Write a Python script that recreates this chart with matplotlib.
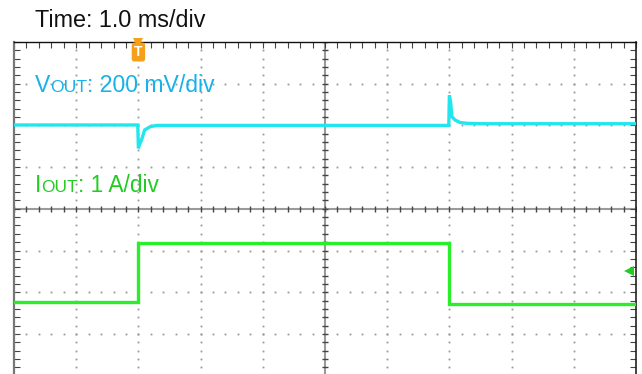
import numpy as np
import matplotlib
matplotlib.use("Agg")
import matplotlib.pyplot as plt

plt.rcParams['font.family'] = ['Liberation Sans', 'DejaVu Sans']

# scope screen: 10 div x 8 div, time in ms (1.0 ms/div), levels in divisions
vout_t = [0, 1.99, 2.0, 2.02, 2.05, 2.1, 2.19, 2.3, 6.99, 7.0, 7.02, 7.04, 7.09, 7.17, 7.28, 7.5, 10]
vout_div = [6.01, 6.01, 5.45, 5.55, 5.65, 5.89, 5.97, 6.0, 6.0, 6.72, 6.55, 6.21, 6.13, 6.07, 6.05, 6.04, 6.04]

iout_t = [0, 2.0, 2.0, 7.0, 7.0, 10]
iout_div = [1.77, 1.77, 3.19, 3.19, 1.72, 1.72]

trigger_t = 2.0
iout_ref_div = 2.5

W, H = 642, 374
fig = plt.figure(figsize=(W / 100, H / 100), dpi=100)
ax = fig.add_axes([14 / W, (H - 375.6) / H, 622 / W, 333.6 / H])
ax.set_xlim(0, 10)
ax.set_ylim(0, 8)

# dotted graticule
fine_x = np.arange(0, 10.001, 0.2)
fine_y = np.arange(0, 8.001, 0.2)
for gx in [1, 2, 3, 4, 6, 7, 8, 9]:
    ax.plot(np.full_like(fine_y, gx), fine_y, ls='none', marker='s', ms=1.3, color='#999999', mew=0)
for gy in [1, 2, 3, 5, 6, 7]:
    ax.plot(fine_x, np.full_like(fine_x, gy), ls='none', marker='s', ms=1.3, color='#999999', mew=0)

# centre lines with fine ticks
ax.axvline(5, color='#9a9a9a', lw=1.5, zorder=1)
ax.axhline(4, color='#9a9a9a', lw=1.5, zorder=1)
ax.plot(np.full_like(fine_y, 5), fine_y, ls='none', marker='_', ms=5, color='#444444', mew=1)
ax.plot(fine_x, np.full_like(fine_x, 4), ls='none', marker='|', ms=5, color='#444444', mew=1)

# traces
ax.plot(vout_t, vout_div, color='#22e6ee', lw=2.4, solid_joinstyle='miter', zorder=4)
ax.plot(iout_t, iout_div, color='#2aee2a', lw=2.4, solid_joinstyle='miter', zorder=4)

# markers
ax.plot([9.88], [iout_ref_div], marker='<', ms=7, color='#22cc22', mew=0, clip_on=False, zorder=5)
ax.plot([trigger_t], [7.97], marker='v', ms=7, color='#f5a01a', mew=0, clip_on=False, zorder=6)
ax.text(trigger_t, 7.76, 'T', color='white', fontsize=10, fontweight='bold', ha='center', va='center',
        bbox=dict(boxstyle='round,pad=0.18', fc='#f5a01a', ec='none'), zorder=6)

# frame
ax.set_xticks(fine_x)
ax.set_yticks(fine_y)
ax.tick_params(direction='in', length=4, width=0.8, color='#444444', top=True, bottom=False,
               left=True, right=True, labelbottom=False, labelleft=False)
ax.spines['left'].set_color('#777777')
ax.spines['left'].set_linewidth(1.6)
ax.spines['top'].set_color('#111111')
ax.spines['top'].set_linewidth(1.0)
ax.spines['right'].set_color('#222222')
ax.spines['right'].set_linewidth(1.2)
ax.spines['bottom'].set_visible(False)

renderer = fig.canvas.get_renderer()


def label(x_px, y_px, pieces, color):
    for s, size in pieces:
        t = fig.text(x_px / W, 1 - y_px / H, s, fontsize=size, color=color, ha='left', va='baseline')
        x_px += t.get_window_extent(renderer=renderer).width


label(35, 26.7, [('Time: 1.0 ms/div', 16.8)], '#111111')
label(35, 91.7, [('V', 16.6), ('OUT', 12.6), (': 200 mV/div', 16.6)], '#16b2ea')
label(35, 191.7, [('I', 16.6), ('OUT', 12.4), (': 1 A/div', 16.4)], '#22cc22')

fig.savefig('out.png', dpi=100)
